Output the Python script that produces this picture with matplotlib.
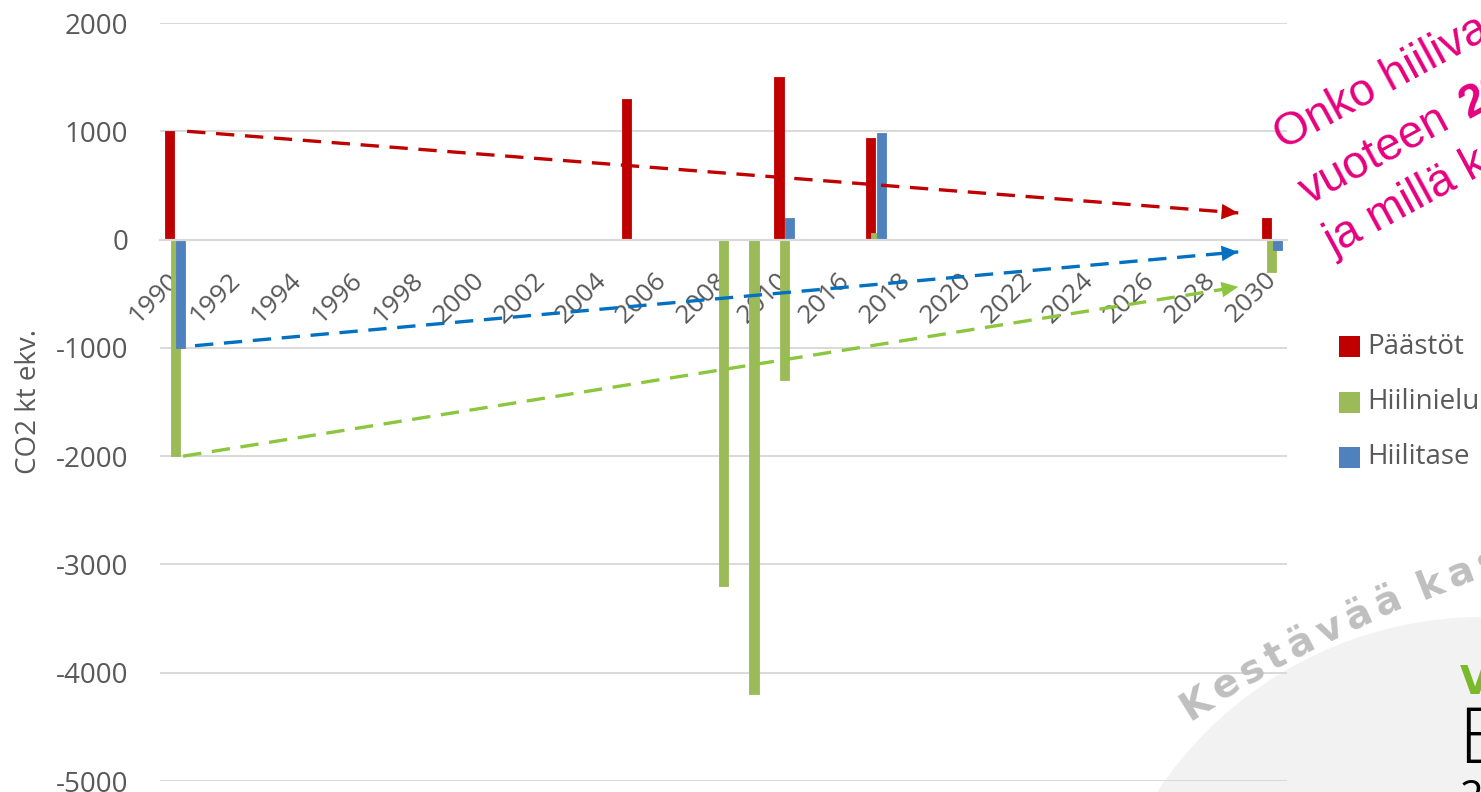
import numpy as np
import matplotlib
matplotlib.use("Agg")
import matplotlib.pyplot as plt
import matplotlib.transforms as mtransforms
from matplotlib.patches import Ellipse, Rectangle
from matplotlib.font_manager import FontProperties

plt.rcParams['axes.unicode_minus'] = False

# ---------------- data ----------------
categories = [str(y) for y in range(1990, 2011)] + [str(y) for y in range(2015, 2031)]
paastot = {"1990": 1000, "2005": 1300, "2010": 1500, "2017": 940, "2030": 200}
hiilinielu = {"1990": -2000, "2008": -3200, "2009": -4200, "2010": -1300, "2017": 60, "2030": -300}
hiilitase = {"1990": -1000, "2010": 200, "2017": 980, "2030": -100}
series_names = ["Päästöt", "Hiilinielu", "Hiilitase"]
series_colors = ["#C00000", "#9BBB59", "#4F81BD"]
yticks = [2000, 1000, 0, -1000, -2000, -3000, -4000, -5000]
ylabel = "CO2 kt ekv."
# trend arrows: (start category index, start value, end category index, end value)
trend_red = (0.39, 1000, 34.9, 246)
trend_blue = (0.65, -980, 34.9, -114)
trend_green = (0.26, -2000, 34.9, -437)
trend_colors = ["#C00000", "#0070C0", "#8CC63F"]

W, H = 1481, 792
def fx(px): return px / W
def fy(py): return 1 - py / H

fig = plt.figure(figsize=(W / 100, H / 100), dpi=100)
fig.patch.set_facecolor("white")

# background grey circle (logo area)
circ = Ellipse((fx(1483), fy(1008)), 2 * 391 / W, 2 * 391 / H, transform=fig.transFigure,
               facecolor="#F2F2F2", edgecolor="none", zorder=-5)
fig.patches.append(circ)

ax = fig.add_axes([fx(160), fy(781), (1287 - 160) / W, (781 - 23) / H])
ax.patch.set_alpha(0)

x = np.arange(len(categories))
vals = [np.array([d.get(c, 0) for c in categories], dtype=float) for d in (paastot, hiilinielu, hiilitase)]
offsets = [-0.18, 0.0, 0.18]
for v, off, col, name in zip(vals, offsets, series_colors, series_names):
    mask = v != 0
    ax.bar(x[mask] + off, v[mask], width=0.3, color=col, edgecolor=col, linewidth=0.6,
           label=name, zorder=2, joinstyle="round")

ax.set_xlim(-0.5, len(categories) - 0.5)
ax.set_ylim(-5000, 2000)
ax.set_yticks(yticks)
ax.set_yticklabels([str(t) for t in yticks])
ax.yaxis.grid(True, color="#D9D9D9", linewidth=1.4)
ax.set_axisbelow(True)

for s in ["top", "right", "left"]:
    ax.spines[s].set_visible(False)
ax.spines["bottom"].set_position(("data", 0))
ax.spines["bottom"].set_color("#D9D9D9")
ax.spines["bottom"].set_linewidth(1.6)

ax.set_xticks(x[::2])
ax.set_xticklabels(categories[::2], rotation=45, ha="right", va="top", rotation_mode="anchor")
ax.tick_params(axis="x", length=0, pad=20, labelsize=19, labelcolor="#595959")
ax.tick_params(axis="y", length=0, pad=23, labelsize=20, labelcolor="#595959")
shift = mtransforms.ScaledTranslation(-8 / 100, 0, fig.dpi_scale_trans)
for lab in ax.get_xticklabels():
    lab.set_fontfamily("Open Sans")
    lab.set_transform(lab.get_transform() + shift)
for lab in ax.get_yticklabels():
    lab.set_fontfamily("Open Sans")

fig.text(fx(29), fy(402), ylabel, rotation=90, ha="center", va="center",
         fontsize=20, color="#595959", family="Open Sans")

# dashed trend arrows
for (x0, y0, x1, y1), col in zip([trend_red, trend_blue, trend_green], trend_colors):
    ax.plot([x0, x1], [y0, y1], color=col, linewidth=2.4, dashes=(5.5, 3.2), zorder=3,
            solid_capstyle="butt", dash_capstyle="butt")
    t = 0.985
    ax.annotate("", xy=(x1, y1), xytext=(x0 + (x1 - x0) * t, y0 + (y1 - y0) * t),
                arrowprops=dict(arrowstyle="-|>,head_length=0.6,head_width=0.28",
                                color=col, lw=0, mutation_scale=20, shrinkA=0, shrinkB=0),
                zorder=4)

# legend (manual)
leg_rows = [347, 402, 457]
for name, col, yc in zip(series_names, series_colors, leg_rows):
    fig.patches.append(Rectangle((fx(1339), fy(yc + 10.5)), 21 / W, 21 / H,
                                 transform=fig.transFigure, facecolor=col, edgecolor="none"))
    fig.text(fx(1367), fy(yc), name, ha="left", va="center", fontsize=20,
             color="#595959", family="Open Sans")

# pink rotated question
ang = 28.5
ca, sa = np.cos(np.radians(ang)), np.sin(np.radians(ang))
pink = "#E6007E"
fs_pink = 33
fig.text(fx(1283), fy(150), "Onko hiilivapaus", rotation=ang, rotation_mode="anchor",
         ha="left", va="baseline", fontsize=fs_pink, color=pink, family="Liberation Sans")
fig.text(fx(1309), fy(205), "vuoteen", rotation=ang, rotation_mode="anchor",
         ha="left", va="baseline", fontsize=fs_pink, color=pink, family="Liberation Sans")
fig.text(fx(1309 + 181 * ca), fy(205 - 181 * sa), "2030", rotation=ang, rotation_mode="anchor",
         ha="left", va="baseline", fontsize=fs_pink, color=pink, family="Liberation Sans",
         fontweight="bold")
fig.text(fx(1333), fy(256), "ja millä keinoin?", rotation=ang, rotation_mode="anchor",
         ha="left", va="baseline", fontsize=fs_pink, color=pink, family="Liberation Sans")

# curved watermark (letters placed along an arc)
wm = "Kestävää kasvua"
wm_fs = 28
fp = FontProperties(family="DejaVu Sans", weight="bold", size=wm_fs)
renderer = fig.canvas.get_renderer()
advs = []
for ch in wm:
    if ch == " ":
        advs.append(0.35 * wm_fs * 100 / 72)
    else:
        w_, h_, d_ = renderer.get_text_width_height_descent(ch, fp, ismath=False)
        advs.append(w_ + 6)
total = sum(advs[:12])
px_, py_ = 1189.0, 721.0
a0, a1 = 32.0, 18.0
s_acc = 0.0
for ch, adv in zip(wm, advs):
    a = a0 + (a1 - a0) * min(s_acc / total, 1.0)
    if ch != " ":
        fig.text(fx(px_), fy(py_), ch, rotation=a, rotation_mode="anchor", ha="left",
                 va="baseline", fontproperties=fp, color="#BFBFBF")
    px_ += adv * np.cos(np.radians(a))
    py_ -= adv * np.sin(np.radians(a))
    s_acc += adv

# logo fragments
fig.text(fx(1460), fy(694), "V", ha="left", va="baseline", fontsize=28, fontweight="bold",
         color="#7AB929", family="DejaVu Sans")
fig.text(fx(1458), fy(763), "E", ha="left", va="baseline", fontsize=56, fontweight="light",
         color="black", family="Open Sans")
fig.text(fx(1460), fy(810), "2", ha="left", va="baseline", fontsize=30,
         color="black", family="Open Sans")

fig.savefig("out.png", dpi=100)
